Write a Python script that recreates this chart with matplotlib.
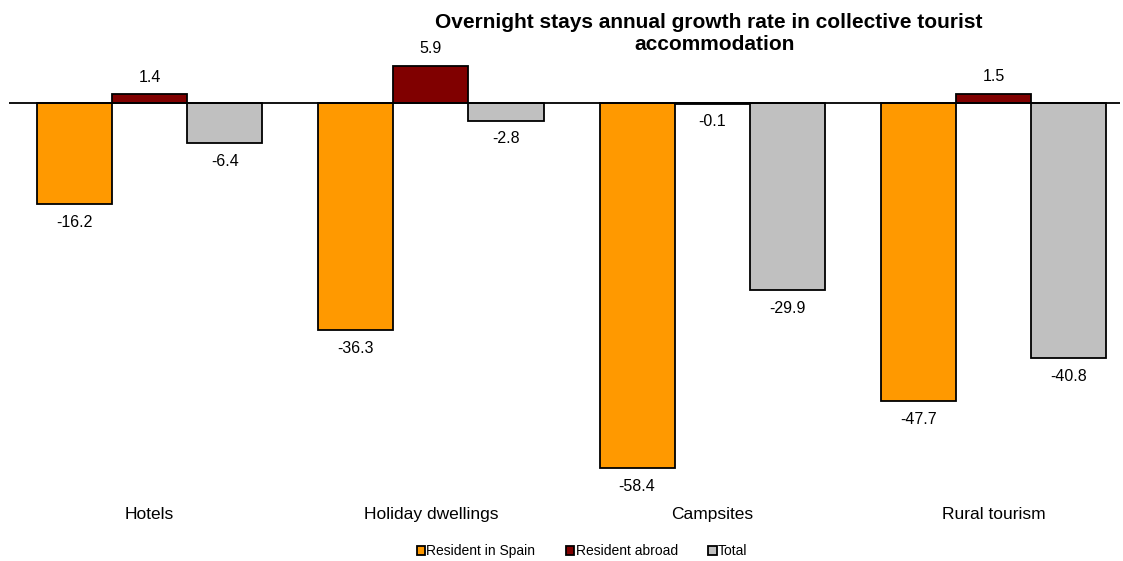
import matplotlib.pyplot as plt
import numpy as np

plt.rcParams['font.family'] = ['Liberation Sans', 'DejaVu Sans']

# data
categories = ['Hotels', 'Holiday dwellings', 'Campsites', 'Rural tourism']
series_names = ['Resident in Spain', 'Resident abroad', 'Total']
resident_spain = [-16.2, -36.3, -58.4, -47.7]
resident_abroad = [1.4, 5.9, -0.1, 1.5]
total = [-6.4, -2.8, -29.9, -40.8]
title_lines = ['Overnight stays annual growth rate in collective tourist', 'accommodation']
colors = ['#FF9900', '#800000', '#C0C0C0']

fig = plt.figure(figsize=(11.23, 5.61), dpi=100)
ax = fig.add_axes([9/1123, 1 - 490/561, 1111/1123, 430/561])

x = np.arange(len(categories))
width = 0.267
for i, (vals, name) in enumerate(zip([resident_spain, resident_abroad, total], series_names)):
    pos = x + (i - 1) * width
    ax.bar(pos, vals, width, color=colors[i], edgecolor='black', linewidth=1.3,
           label=name, zorder=2)
    for p, v in zip(pos, vals):
        off = 12.5 if v > 0 else -13
        ax.annotate(f'{v:.1f}', (p, v), xytext=(0, off), textcoords='offset points',
                    ha='center', va='center', fontsize=11.5)

ax.axhline(0, color='black', linewidth=1.3, zorder=3)
ax.set_xlim(-0.5, 3.45)
ax.set_ylim(-61.9, 6.9)
ax.set_yticks([])
ax.set_xticks(x)
ax.set_xticklabels(categories, fontsize=12.5)
ax.tick_params(axis='x', length=0, pad=12)
for s in ax.spines.values():
    s.set_visible(False)

# title as two separate lines
fig.text(709/1123, 1 - 22/561, title_lines[0], ha='center', va='center',
         fontsize=15, fontweight='bold')
fig.text(715/1123, 1 - 44/561, title_lines[1], ha='center', va='center',
         fontsize=15, fontweight='bold')

fig.legend(loc='center', bbox_to_anchor=(582/1123, 1 - 551/561), ncol=3, frameon=False,
           fontsize=10, handlelength=0.6, handleheight=0.6, handletextpad=0.1,
           columnspacing=2.2)

plt.savefig('out.png', dpi=100)
